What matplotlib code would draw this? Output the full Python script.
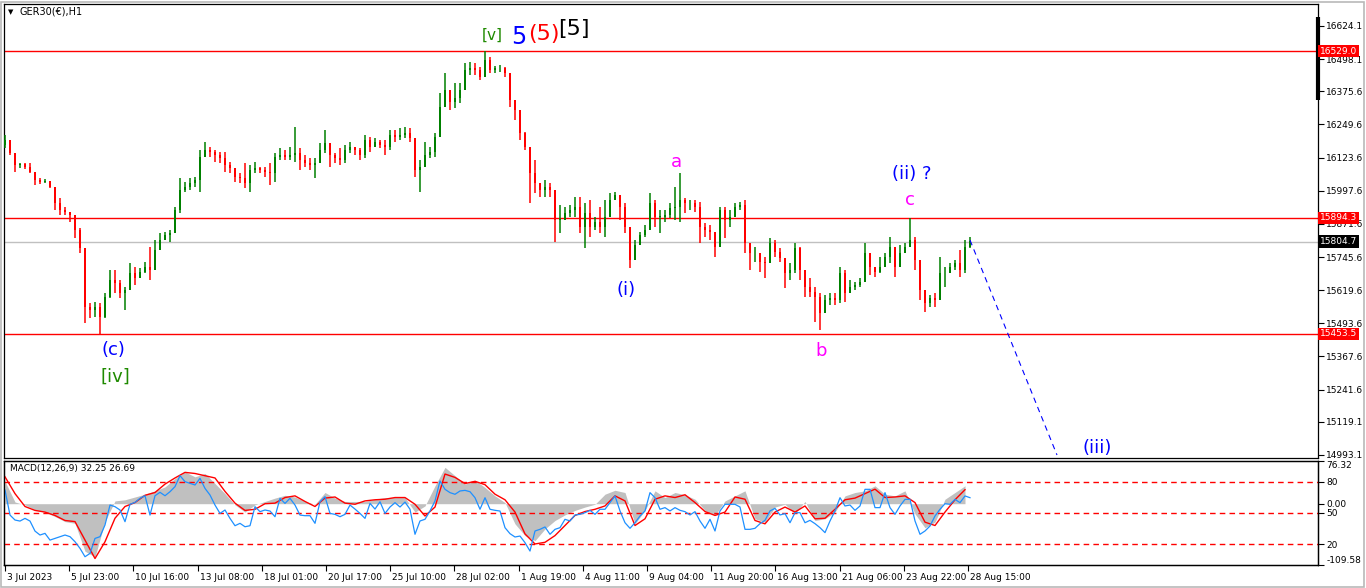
import matplotlib
matplotlib.use('Agg')
import numpy as np
import matplotlib.pyplot as plt
import matplotlib.transforms as mtransforms
from matplotlib.patches import Rectangle

plt.rcParams['font.family'] = ['DejaVu Sans']

# GER30 H1: one candle per 5 hourly bars
first_open = 16170
highs = [16210, 16184, 16121, 16105, 16102, 16105, 16070, 16045, 16041, 16032,
         16013, 15969, 15937, 15918, 15899, 15855, 15747, 15570, 15576, 15570,
         15608, 15697, 15697, 15658, 15633, 15722, 15709, 15703, 15728, 15785,
         15811, 15836, 15842, 15849, 15937, 16045, 16032, 16045, 16051, 16153,
         16184, 16165, 16153, 16146, 16146, 16108, 16083, 16064, 16102, 16096,
         16108, 16089, 16089, 16102, 16140, 16159, 16153, 16165, 16239, 16159,
         16134, 16121, 16121, 16178, 16229, 16165, 16140, 16159, 16172, 16184,
         16165, 16159, 16210, 16203, 16197, 16191, 16191, 16229, 16229, 16235,
         16241, 16235, 16178, 16115, 16184, 16165, 16216, 16368, 16444, 16355,
         16406, 16406, 16482, 16489, 16482, 16470, 16529, 16508, 16472, 16476,
         16470, 16444, 16343, 16260, 16222, 16153, 16115, 16026, 16039, 16026,
         15975, 15944, 15937, 15944, 15975, 15975, 15950, 15963, 15899, 15937,
         15963, 15988, 15994, 15975, 15950, 15823, 15811, 15842, 15868, 15988,
         15963, 15925, 15925, 15950, 16013, 16064, 15969, 15963, 15963, 15956,
         15874, 15868, 15842, 15937, 15937, 15925, 15950, 15956, 15963, 15798,
         15785, 15760, 15747, 15817, 15811, 15779, 15735, 15722, 15798, 15785,
         15684, 15665, 15633, 15608, 15601, 15608, 15608, 15709, 15697, 15658,
         15652, 15665, 15798, 15760, 15709, 15747, 15760, 15823, 15747, 15792,
         15798, 15894, 15823, 15735, 15608, 15601, 15608, 15747, 15709, 15722,
         15735, 15773, 15811, 15823]
lows = [16159, 16134, 16070, 16083, 16079, 16064, 16020, 16024, 16026, 16007,
        15925, 15906, 15906, 15880, 15817, 15760, 15494, 15513, 15519, 15454,
        15513, 15589, 15608, 15589, 15544, 15633, 15639, 15671, 15684, 15658,
        15709, 15792, 15817, 15804, 15861, 15912, 15994, 16001, 16013, 15994,
        16134, 16127, 16108, 16102, 16070, 16064, 16032, 16026, 16007, 15994,
        16064, 16064, 16051, 16020, 16032, 16115, 16115, 16115, 16108, 16077,
        16089, 16077, 16045, 16102, 16140, 16089, 16102, 16096, 16102, 16140,
        16134, 16115, 16121, 16146, 16165, 16159, 16134, 16153, 16184, 16191,
        16197, 16184, 16051, 15994, 16121, 16121, 16127, 16254, 16330, 16305,
        16311, 16330, 16393, 16438, 16438, 16419, 16451, 16444, 16444, 16451,
        16432, 16317, 16267, 16191, 16153, 15950, 15988, 15975, 15975, 15975,
        15804, 15836, 15887, 15899, 15899, 15836, 15779, 15823, 15849, 15836,
        15823, 15912, 15963, 15887, 15836, 15703, 15735, 15817, 15823, 15849,
        15861, 15836, 15880, 15893, 15887, 15880, 15912, 15925, 15918, 15798,
        15823, 15811, 15747, 15811, 15817, 15861, 15912, 15925, 15760, 15697,
        15728, 15690, 15665, 15747, 15747, 15728, 15627, 15658, 15684, 15658,
        15595, 15595, 15500, 15468, 15557, 15563, 15563, 15570, 15576, 15608,
        15620, 15633, 15658, 15678, 15671, 15684, 15735, 15722, 15671, 15709,
        15760, 15785, 15697, 15582, 15538, 15557, 15557, 15595, 15633, 15684,
        15697, 15671, 15684, 15779]
closes = [16191, 16140, 16096, 16100, 16089, 16070, 16039, 16032, 16036, 16013,
          15950, 15925, 15918, 15906, 15849, 15779, 15557, 15544, 15557, 15519,
          15595, 15658, 15646, 15608, 15620, 15684, 15665, 15690, 15709, 15697,
          15773, 15811, 15830, 15836, 15925, 16001, 16013, 16026, 16039, 16127,
          16153, 16146, 16134, 16121, 16096, 16083, 16051, 16045, 16026, 16077,
          16083, 16077, 16070, 16064, 16127, 16134, 16127, 16134, 16140, 16115,
          16102, 16096, 16102, 16153, 16178, 16134, 16121, 16115, 16153, 16165,
          16153, 16134, 16191, 16165, 16184, 16172, 16165, 16210, 16203, 16210,
          16216, 16197, 16077, 16089, 16134, 16146, 16203, 16317, 16381, 16336,
          16349, 16381, 16457, 16463, 16457, 16432, 16495, 16457, 16463, 16463,
          16444, 16343, 16305, 16216, 16165, 16064, 16026, 16001, 16013, 16001,
          15887, 15887, 15912, 15925, 15937, 15861, 15912, 15861, 15880, 15861,
          15899, 15963, 15982, 15937, 15861, 15735, 15792, 15830, 15849, 15950,
          15899, 15899, 15906, 15931, 15937, 15963, 15950, 15950, 15937, 15861,
          15849, 15842, 15785, 15925, 15887, 15899, 15937, 15944, 15798, 15760,
          15760, 15728, 15722, 15798, 15766, 15741, 15684, 15697, 15779, 15697,
          15633, 15614, 15595, 15532, 15582, 15589, 15582, 15684, 15608, 15633,
          15639, 15652, 15760, 15709, 15690, 15709, 15747, 15785, 15709, 15760,
          15785, 15811, 15735, 15620, 15570, 15589, 15582, 15684, 15684, 15709,
          15722, 15697, 15785, 15805]

red_levels = [16529.0, 15894.3, 15453.5]
bid = 15804.7
proj_prices = [15810, 14993]

price_ticks = [16624.1, 16498.1, 16375.6, 16249.6, 16123.6, 15997.6, 15871.6,
               15745.6, 15619.6, 15493.6, 15367.6, 15241.6, 15119.1, 14993.1]
date_labels = ['3 Jul 2023', '5 Jul 23:00', '10 Jul 16:00', '13 Jul 08:00',
               '18 Jul 01:00', '20 Jul 17:00', '25 Jul 10:00', '28 Jul 02:00',
               '1 Aug 19:00', '4 Aug 11:00', '9 Aug 04:00', '11 Aug 20:00',
               '16 Aug 13:00', '21 Aug 06:00', '23 Aug 22:00', '28 Aug 15:00']

# indicator window (one value per 10 bars for MACD, per 5 bars for the blue line)
macd_hist = [40, 3, -2, -11, -15, -23, -32, -35, -85, -95,
             -32, 5, 7, 12, 17, 23, 30, 45, 57, 48,
             54, 36, 18, -2, -15, -2, 4, 10, 15, 12,
             4, -1, 20, 10, 4, 4, 4, 8, 11, 11,
             11, -15, -4, 32, 65, 50, 35, 42, 29, 14,
             2, -36, -57, -66, -45, -30, -20, -12, -6, -1,
             17, 24, 20, -36, -12, 23, 11, 20, 16, 8,
             -12, -21, 5, 14, 23, -27, -33, -6, -1, -18,
             4, -30, -27, -15, 14, 20, 23, 32, 17, 14,
             23, -18, -43, -33, 8, 20, 32]
macd_signal = [48, 18, -5, -12, -15, -21, -30, -32, -65, -98,
               -68, -26, -5, 2, 15, 20, 35, 46, 56, 54,
               50, 46, 22, 1, -12, -10, 0, 1, 11, 14,
               4, -5, 10, 12, 1, -1, 5, 7, 8, 11,
               11, -1, -22, -6, 53, 47, 36, 40, 34, 17,
               7, -15, -54, -72, -69, -57, -39, -21, -14, -10,
               -4, 14, 5, -39, -27, 8, 14, 11, 16, 2,
               -14, -21, -15, 12, 8, -30, -36, -15, -6, -15,
               -4, -27, -26, -10, 7, 10, 18, 26, 11, 12,
               14, 2, -33, -39, -15, 7, 25]
osc_line = [72.2, 48, 43.2, 42.2, 44.8, 42.2, 32.5, 28.7, 30.3, 23.8,
            25.4, 27.1, 28.7, 27.1, 22.2, 15.8, 7.7, 10.9, 25.4, 27.1,
            38.4, 57.7, 56.1, 52.9, 41.6, 58.4, 60.3, 64.2, 66.7, 48,
            66.7, 70, 66.7, 70.6, 75.5, 86.1, 80.3, 78.7, 77.1, 83.5,
            73.8, 67.4, 57.7, 49.6, 52.9, 44.8, 37.7, 40, 36.7, 37.7,
            56.1, 51.3, 52.9, 51.9, 46.4, 64.2, 59.3, 64.2, 57.7, 48,
            47.4, 47.4, 40, 60.9, 65.8, 49.6, 48.7, 46.4, 48.7, 57.7,
            53.8, 49.6, 44.8, 59.3, 53.8, 60.9, 49.6, 55.8, 60, 55.8,
            60.6, 53.6, 29.4, 42.3, 43.9, 52, 61.6, 81, 72.9, 69.7,
            68.1, 71.3, 71.9, 70.6, 64.8, 53.6, 64.8, 53.6, 52.6, 51.9,
            35.8, 30, 26.8, 27.7, 21.3, 13.2, 32.6, 34.2, 36.5, 29.4,
            34.2, 35.8, 43.9, 42.3, 48.1, 48.7, 50.3, 52.6, 48.7, 53.6,
            53.6, 60, 66.5, 52, 40.6, 35.2, 40.6, 47.1, 52, 69.7,
            64.8, 53.6, 55.2, 52, 55.2, 52.6, 51.3, 48.1, 51.3, 42.3,
            35.2, 43.9, 32.6, 52, 58.4, 58.4, 58.4, 55.8, 34.2, 34.2,
            35.2, 39.7, 42.9, 52, 54.5, 48.1, 49.4, 40.6, 50.3, 50.3,
            40.6, 42.9, 39.7, 35.8, 31, 42.3, 52, 64.8, 56.8, 57.7,
            52.6, 56.8, 72.9, 72.9, 55.2, 55.2, 69.7, 55.2, 48.7, 56.8,
            63.2, 63.2, 42.3, 29.4, 32.6, 37.4, 47.1, 53.6, 59, 58.4,
            63.2, 60, 66.5, 64.8]

UP = '#008000'
DN = '#ff0000'
W, H = 1366, 588
fs = 6.5

fig = plt.figure(figsize=(W / 100, H / 100), dpi=100)
ax = fig.add_axes([4 / W, (H - 458) / H, 1314 / W, 454 / H])
am = fig.add_axes([4 / W, (H - 565) / H, 1314 / W, 104 / H])

# candles
c = np.array(closes, float)
o = np.r_[first_open, c[:-1]]
hi = np.maximum(np.array(highs, float), np.maximum(o, c))
lo = np.minimum(np.array(lows, float), np.minimum(o, c))
xs = np.arange(len(c)) * 5
cols = np.where(c >= o, UP, DN)
ax.vlines(xs, lo, hi, colors=cols, lw=1.1, zorder=3)
ax.bar(xs, np.maximum(np.abs(c - o), 2), bottom=np.minimum(o, c), width=2.6,
       color=cols, lw=0, zorder=3)

for lv in red_levels:
    ax.axhline(lv, color='#ff0000', lw=1.0, zorder=2)
ax.axhline(bid, color='#c0c0c0', lw=1.0, zorder=1)

# projection
ax.plot([xs[-1], xs[-1] + 87], proj_prices, color='#0000ff', lw=0.8,
        ls=(0, (5, 4)), zorder=4)

# wave labels
ax.text(487, 16590, '[v]', color='#1f8a00', fontsize=11, ha='center', va='center')
ax.text(514, 16582, '5', color='#0000ff', fontsize=17, ha='center', va='center')
ax.text(539, 16594, '(5)', color='#ff0000', fontsize=16, ha='center', va='center')
ax.text(569, 16613, '[5]', color='black', fontsize=16, ha='center', va='center')
ax.text(108, 15392, '(c)', color='#0000ff', fontsize=13, ha='center', va='center')
ax.text(110, 15290, '[iv]', color='#1f8a00', fontsize=13, ha='center', va='center')
ax.text(621, 15620, '(i)', color='#0000ff', fontsize=13, ha='center', va='center')
ax.text(671, 16107, 'a', color='#ff00ff', fontsize=13, ha='center', va='center')
ax.text(816, 15388, 'b', color='#ff00ff', fontsize=13, ha='center', va='center')
ax.text(907, 16061, '(ii) ?', color='#0000ff', fontsize=13, ha='center', va='center')
ax.text(905, 15963, 'c', color='#ff00ff', fontsize=13, ha='center', va='center')
ax.text(1092, 15018, '(iii)', color='#0000ff', fontsize=13, ha='center', va='center')

ax.set_xlim(-1, 1313)
ax.set_ylim(14981.6, 16707.7)
ax.tick_params(axis='x', bottom=False, labelbottom=False)
ax.yaxis.tick_right()
ax.set_yticks(price_ticks)
ax.set_yticklabels([f'{v:.1f}' for v in price_ticks])
ax.tick_params(axis='y', direction='out', length=4, width=0.8, pad=2, labelsize=fs)

# price boxes on the scale
tr = mtransforms.blended_transform_factory(ax.transAxes, ax.transData)
for lv in red_levels:
    ax.text(1.0012, lv, f'{lv:.1f}', transform=tr, color='white', fontsize=fs,
            ha='left', va='center', zorder=10, clip_on=False,
            bbox=dict(boxstyle='square,pad=0.2', fc='#ff0000', ec='none'))
ax.text(1.0012, bid, f'{bid:.1f}', transform=tr, color='white', fontsize=fs,
        ha='left', va='center', zorder=10, clip_on=False,
        bbox=dict(boxstyle='square,pad=0.2', fc='black', ec='none'))
ax.plot([1313, 1313], [16658, 16343], color='black', lw=3, clip_on=False,
        solid_capstyle='butt', zorder=5)

# indicator window
xm = np.arange(len(macd_hist)) * 10
xo = np.arange(len(osc_line)) * 5
am.fill_between(xm, 0, macd_hist, color='#c0c0c0', lw=0)
am.plot(xm, macd_signal, color='#ff0000', lw=1.0, zorder=4)
am.set_ylim(-109.58, 76.32)
am.set_xlim(-1, 1313)

ar = am.twinx()
ar.set_ylim(-0.3, 100.3)
for lv in (80, 50, 20):
    ar.axhline(lv, color='#ff0000', lw=1.0, ls=(0, (4, 3)))
ar.plot(xo, osc_line, color='#1e90ff', lw=0.9)
ar.set_yticks([80, 50, 20])
ar.set_yticklabels(['80', '50', '20'])
ar.tick_params(axis='y', direction='out', length=4, width=0.8, pad=2, labelsize=fs)

am.yaxis.tick_right()
am.set_yticks([76.32, 0.0, -109.58])
am.set_yticklabels(['76.32', '0.00', '-109.58'])
am.tick_params(axis='y', direction='out', length=4, width=0.8, pad=2, labelsize=fs)
lbls = am.get_yticklabels()
lbls[0].set_va('top')
lbls[2].set_va('bottom')

am.set_xticks(np.arange(len(date_labels)) * 64.2)
am.set_xticklabels(date_labels)
am.tick_params(axis='x', direction='out', length=4, width=0.8, pad=2, labelsize=fs)
off = mtransforms.ScaledTranslation(2 / 100, 0, fig.dpi_scale_trans)
for lab in am.get_xticklabels():
    lab.set_ha('left')
    lab.set_transform(lab.get_transform() + off)

for a in (ax, am, ar):
    for s in a.spines.values():
        s.set_color('black')
        s.set_linewidth(0.9)

fig.text(8 / W, 1 - 12 / H, '\u25bc', fontsize=5, va='center')
fig.text(20 / W, 1 - 12 / H, 'GER30(\u20ac),H1', fontsize=7, va='center')
fig.text(10 / W, 1 - 468 / H, 'MACD(12,26,9) 32.25 26.69', fontsize=fs, va='center')

fig.patches.append(Rectangle((0.5 / W, 1.5 / H), (W - 2.5) / W, (H - 3) / H,
                             transform=fig.transFigure, fill=False,
                             ec='#b9b9b9', lw=1.2))

fig.savefig('out.png', dpi=100)
